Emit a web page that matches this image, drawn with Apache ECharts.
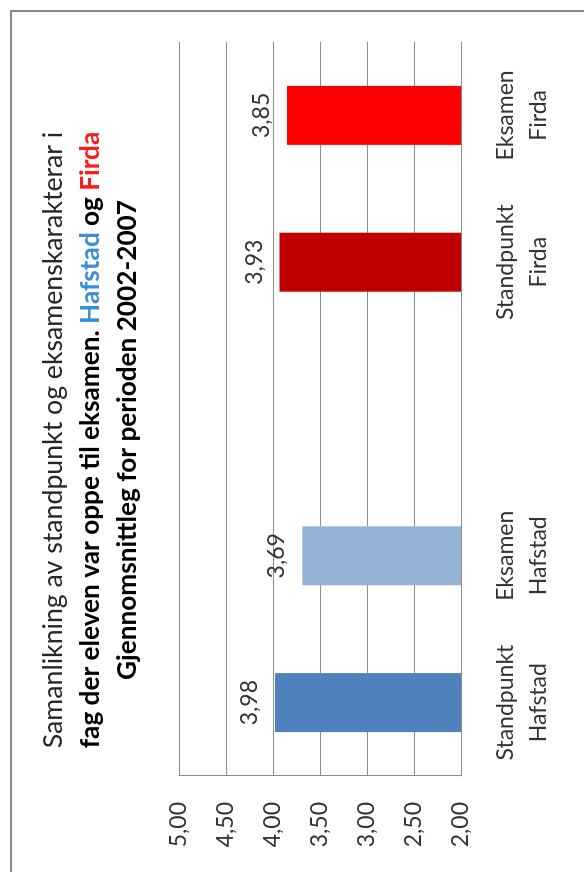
<!DOCTYPE html>
<html>
<head>
<meta charset="utf-8">
<script src="https://cdn.jsdelivr.net/npm/echarts@6/dist/echarts.min.js"></script>
<style>
html,body{margin:0;padding:0;background:#fff;overflow:hidden;}
#wrap{position:absolute;left:0;top:0;width:872px;height:584px;transform-origin:0 0;transform:translate(0px,872px) rotate(-90deg);}
</style>
</head>
<body>
<div id="wrap"></div>
<script>
// Data
var categories = ['Standpunkt\nHafstad', 'Eksamen\nHafstad', '', 'Standpunkt\nFirda', 'Eksamen\nFirda'];
var values = [3.98, 3.69, null, 3.93, 3.85];
var barColors = ['#4F81BD', '#95B3D7', '#ffffff', '#C00000', '#FF0000'];
var yTicks = { min: 2, max: 5, interval: 0.5 };
var titleLine1 = 'Samanlikning av standpunkt og eksamenskarakterar i';
var titleLine2a = 'fag der eleven var oppe til eksamen. ';
var titleHaf = 'Hafstad';
var titleOg = ' og ';
var titleFir = 'Firda';
var titleLine3 = 'Gjennomsnittleg for perioden 2002-2007';

var FONT = 'Lato';
var chart = echarts.init(document.getElementById('wrap'), null, {renderer: 'canvas', width: 872, height: 584});

function comma(v) { return v.toFixed(2).replace('.', ','); }

chart.setOption({
  backgroundColor: '#ffffff',
  animation: false,
  title: {
    left: 427,
    top: 30,
    textAlign: 'center',
    text: '{n|' + titleLine1 + '}\n{b|' + titleLine2a + '}{h|' + titleHaf + '}{b|' + titleOg + '}{f|' + titleFir + '}\n{b|' + titleLine3 + '}',
    textStyle: {
      fontFamily: FONT,
      fontSize: 26,
      lineHeight: 37,
      rich: {
        n: {fontFamily: FONT, fontSize: 26.7, fontWeight: 'normal', color: '#262626', lineHeight: 37},
        b: {fontFamily: FONT, fontSize: 26.2, fontWeight: 'bold', color: '#000000', lineHeight: 37},
        h: {fontFamily: FONT, fontSize: 26.2, fontWeight: 'bold', color: '#3a8fd4', lineHeight: 37},
        f: {fontFamily: FONT, fontSize: 26.2, fontWeight: 'bold', color: '#ff1a1a', lineHeight: 37}
      }
    }
  },
  grid: {left: 96, right: 42, top: 179, bottom: 123, containLabel: false},
  xAxis: {
    type: 'category',
    data: categories,
    axisLine: {show: true, lineStyle: {color: '#8c8c8c', width: 1}},
    axisTick: {show: false},
    axisLabel: {
      interval: 0,
      margin: 28,
      fontFamily: FONT,
      fontSize: 23,
      lineHeight: 33,
      color: '#333333'
    }
  },
  yAxis: {
    type: 'value',
    min: yTicks.min,
    max: yTicks.max,
    interval: yTicks.interval,
    axisLine: {show: true, lineStyle: {color: '#8c8c8c', width: 1}},
    axisTick: {show: false},
    splitLine: {show: true, lineStyle: {color: '#8c8c8c', width: 1}},
    axisLabel: {
      margin: 26,
      fontFamily: FONT,
      fontSize: 23,
      color: '#333333',
      formatter: function (v) { return comma(v); }
    }
  },
  series: [{
    type: 'bar',
    data: values.map(function (v, i) { return {value: v, itemStyle: {color: barColors[i]}}; }),
    barWidth: 59,
    label: {
      show: true,
      position: 'top',
      distance: 14,
      fontFamily: FONT,
      fontSize: 23,
      color: '#333333',
      formatter: function (p) { return comma(p.value); }
    }
  }],
  graphic: [{
    type: 'rect',
    shape: {x: -10, y: 11, width: 871, height: 600},
    style: {fill: 'none', stroke: '#8a8a8a', lineWidth: 2},
    silent: true
  }]
});
</script>
</body>
</html>
